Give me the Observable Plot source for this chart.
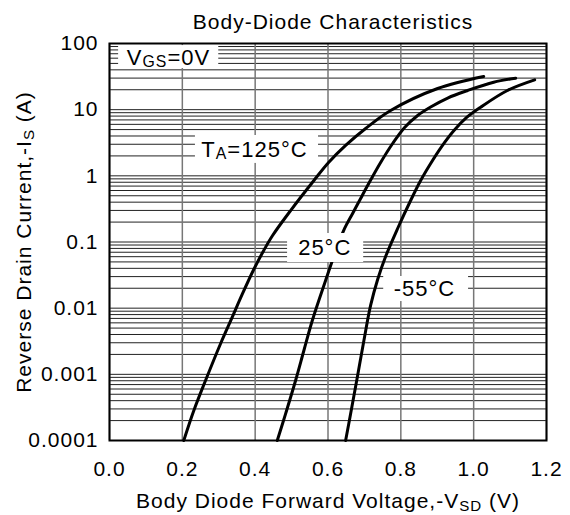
<!DOCTYPE html>
<html>
<head>
<meta charset="utf-8">
<script src="https://cdn.jsdelivr.net/npm/d3@7"></script>
<script src="https://cdn.jsdelivr.net/npm/@observablehq/plot@0.6"></script>
<style>
  html, body { margin: 0; padding: 0; background: #fff; }
  #chart svg { display: block; }
</style>
</head>
<body>
<div id="chart"></div>
<script>
// ---- Data ----
const title = "Body-Diode Characteristics";
const xLabel = "Body Diode Forward Voltage,-V[SD] (V)";
const yLabel = "Reverse Drain Current,-I[S] (A)";

const xTicks = [0, 0.2, 0.4, 0.6, 0.8, 1.0, 1.2];
const xTickLabels = ["0.0", "0.2", "0.4", "0.6", "0.8", "1.0", "1.2"];
const yTicks = [0.0001, 0.001, 0.01, 0.1, 1, 10, 100];
const yTickLabels = ["0.0001", "0.001", "0.01", "0.1", "1", "10", "100"];
const gridMultipliers = [1, 2, 3, 4, 5, 6, 7, 8, 9];

const series = ["125°C", "25°C", "-55°C"];
const v125 = [0.204, 0.2316, 0.2637, 0.3049, 0.3371, 0.3646, 0.3964, 0.4239, 0.4478, 0.4973, 0.5613, 0.6016, 0.6484, 0.7033, 0.772, 0.9011, 1.0275];
const i125 = [1.0e-4, 2.84e-4, 8.07e-4, 0.0029, 0.00731, 0.01626, 0.0387, 0.075, 0.1254, 0.299, 0.851, 1.59, 2.88, 5.19, 9.71, 20.9, 31.7];
const v25 = [0.4607, 0.4835, 0.511, 0.5338, 0.5569, 0.5934, 0.6209, 0.6456, 0.6676, 0.6896, 0.7088, 0.7445, 0.7775, 0.8104, 0.8462, 0.8819, 0.9286, 0.9835, 1.0549, 1.1154];
const i25 = [1.0e-4, 2.53e-4, 8.07e-4, 0.00229, 0.00651, 0.0262, 0.0719, 0.160, 0.270, 0.455, 0.714, 1.59, 3.08, 5.38, 8.17, 10.97, 15.0, 19.5, 26.0, 29.9];
const vm55 = [0.6484, 0.6621, 0.6805, 0.6986, 0.717, 0.7363, 0.7582, 0.7912, 0.8269, 0.8544, 0.8819, 0.9121, 0.9459, 0.9808, 1.0192, 1.0926, 1.1676];
const im55 = [1.0e-4, 2.53e-4, 9.06e-4, 0.00325, 0.01099, 0.0271, 0.0604, 0.160, 0.424, 0.851, 1.54, 2.77, 4.84, 7.62, 10.9, 19.5, 28.2];

// label annotations (data coordinates): text anchor point and white box extents
const labelText = ["V[GS]=0V", "T[A]=125°C", "25°C", "-55°C"];
const labelX = [0.162, 0.398, 0.591, 0.865];
const labelY = [61.4, 2.5, 0.081, 0.0195];
const boxX1 = [0.025, 0.236, 0.489, 0.753];
const boxX2 = [0.300, 0.574, 0.698, 0.986];
const boxY1 = [93, 4.07, 0.1345, 0.0301];
const boxY2 = [41.9, 1.54, 0.049, 0.0126];

// ---- Build tables ----
const curves = [
  ...v125.map((v, k) => ({series: series[0], v, i: i125[k]})),
  ...v25.map((v, k) => ({series: series[1], v, i: i25[k]})),
  ...vm55.map((v, k) => ({series: series[2], v, i: im55[k]}))
];
const yGrid = yTicks.slice(0, -1).flatMap(d => gridMultipliers.map(m => d * m)).concat([yTicks[yTicks.length - 1]]);
const labels = labelText.map((t, k) => ({t, x: labelX[k], y: labelY[k], x1: boxX1[k], x2: boxX2[k], y1: boxY1[k], y2: boxY2[k]}));
const xFmt = d => xTickLabels[xTicks.findIndex(t => Math.abs(t - d) < 1e-9)];
const yFmt = d => yTickLabels[yTicks.findIndex(t => Math.abs(Math.log10(t / d)) < 1e-6)];

const font = "'Liberation Sans', Arial, Helvetica, sans-serif";

const plot = Plot.plot({
  width: 570,
  height: 515,
  marginLeft: 109,
  marginRight: 24,
  marginTop: 43,
  marginBottom: 75,
  style: {fontFamily: font, fontSize: "21px", color: "black", background: "white", letterSpacing: "1px"},
  x: {domain: [0, 1.2]},
  y: {type: "log", domain: [1e-4, 100]},
  marks: [
    Plot.ruleY(yGrid, {y: d => d, stroke: "#222", strokeWidth: 1}),
    Plot.ruleX(xTicks, {x: d => d, stroke: "#777", strokeWidth: 1.5}),
    Plot.line(curves, {x: "v", y: "i", z: "series", stroke: "black", strokeWidth: 3, curve: "catmull-rom"}),
    Plot.rect(labels, {x1: "x1", x2: "x2", y1: "y1", y2: "y2", fill: "white"}),
    Plot.text(labels, {x: "x", y: "y", text: "t", fill: "black", fontSize: 22, lineAnchor: "middle"}),
    Plot.frame({stroke: "black", strokeWidth: 2}),
    Plot.axisX(xTicks, {tickSize: 0, tickPadding: 21, tickFormat: xFmt, label: null, fontSize: 21}),
    Plot.axisY(yTicks, {tickSize: 0, tickPadding: 11, tickFormat: yFmt, label: null, fontSize: 21}),
    Plot.text([title], {frameAnchor: "top", dy: -21, dx: 5, lineAnchor: "middle", fontSize: 21}),
    Plot.text([xLabel], {frameAnchor: "bottom", dy: 61, lineAnchor: "middle", fontSize: 21}),
    Plot.text([yLabel], {frameAnchor: "left", dx: -85, rotate: -90, textAnchor: "middle", lineAnchor: "middle", fontSize: 21})
  ]
});

document.getElementById("chart").appendChild(plot);

// ---- Subscript post-processing: "X[sub]" -> tspans ----
const NS = "http://www.w3.org/2000/svg";
plot.querySelectorAll("text").forEach(t => {
  const s = t.textContent;
  if (!/\[[^\]]+\]/.test(s) || t.children.length) return;
  const fs = parseFloat(getComputedStyle(t).fontSize) || 21;
  const shift = 0.12 * fs;
  const parts = s.split(/(\[[^\]]+\])/).filter(p => p.length);
  t.textContent = "";
  let lowered = false;
  parts.forEach(p => {
    const ts = document.createElementNS(NS, "tspan");
    if (p.startsWith("[")) {
      ts.textContent = p.slice(1, -1);
      ts.setAttribute("font-size", (0.72 * fs) + "px");
      ts.setAttribute("dy", shift);
      lowered = true;
    } else {
      ts.textContent = p;
      if (lowered) { ts.setAttribute("dy", -shift); lowered = false; }
    }
    t.appendChild(ts);
  });
});
</script>
</body>
</html>
